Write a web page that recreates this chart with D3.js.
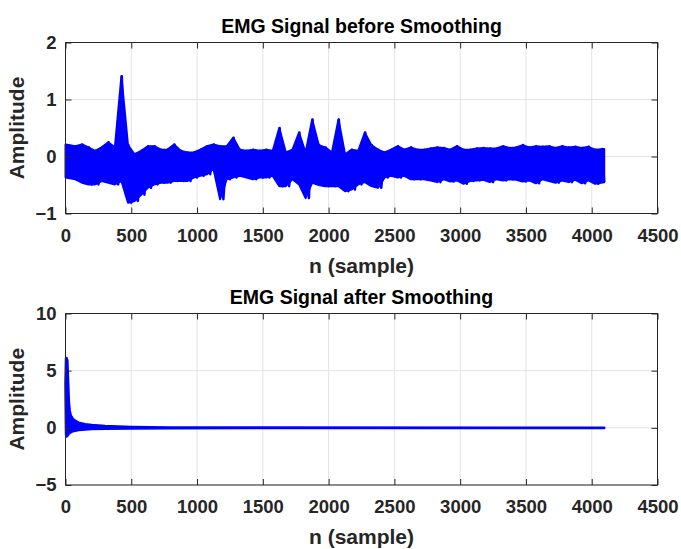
<!DOCTYPE html>
<html>
<head>
<meta charset="utf-8">
<script src="https://d3js.org/d3.v7.min.js"></script>
<style>
body { margin: 0; background: #fff; }
svg { display: block; }
text { font-family: "Liberation Sans", Arial, Helvetica, sans-serif; font-weight: bold; }
.tick text { font-size: 18.5px; fill: #262626; }
.domain, .tick line { stroke: #262626; }
.grid line { stroke: #e3e3e3; stroke-width: 1; }
</style>
</head>
<body>
<div id="chart"></div>
<script>
// bins of 50 samples, envelope (upper / lower edge)
var beforeHi = [0.21, 0.18, 0.21, 0.16, 0.10, 0.16, 0.25, 0.16, 1.41, 0.20,
  0.04, 0.10, 0.18, 0.18, 0.12, 0.12, 0.21, 0.10, 0.07, 0.07,
  0.12, 0.18, 0.21, 0.18, 0.18, 0.33, 0.12, 0.10, 0.12, 0.10,
  0.12, 0.10, 0.50, 0.07, 0.12, 0.42, 0.07, 0.65, 0.20, 0.16,
  0.07, 0.65, 0.04, 0.12, 0.10, 0.42, 0.20, 0.12, 0.07, 0.12,
  0.18, 0.12, 0.16, 0.12, 0.12, 0.14, 0.16, 0.15, 0.12, 0.18,
  0.12, 0.12, 0.14, 0.15, 0.14, 0.14, 0.18, 0.15, 0.16, 0.20,
  0.16, 0.18, 0.17, 0.18, 0.15, 0.18, 0.16, 0.17, 0.15, 0.17,
  0.12, 0.13];
var beforeLo = [-0.37, -0.40, -0.46, -0.49, -0.49, -0.43, -0.46, -0.49, -0.43, -0.81,
  -0.78, -0.67, -0.55, -0.49, -0.46, -0.46, -0.43, -0.43, -0.43, -0.37,
  -0.34, -0.31, -0.22, -0.75, -0.40, -0.37, -0.34, -0.37, -0.40, -0.37,
  -0.37, -0.34, -0.52, -0.52, -0.40, -0.49, -0.73, -0.46, -0.50, -0.52,
  -0.52, -0.52, -0.61, -0.58, -0.49, -0.45, -0.52, -0.55, -0.37, -0.34,
  -0.37, -0.34, -0.40, -0.40, -0.40, -0.42, -0.45, -0.40, -0.44, -0.42,
  -0.48, -0.43, -0.42, -0.41, -0.45, -0.40, -0.42, -0.40, -0.41, -0.44,
  -0.42, -0.47, -0.40, -0.43, -0.46, -0.42, -0.45, -0.41, -0.47, -0.42,
  -0.48, -0.45];
var binSize = 50;
var nSamples = 4096;

// smoothed signal envelope
var afterN  = [0, 4, 8, 14, 20, 26, 32, 40, 55, 75, 100, 150, 200, 300, 500, 800, 1500, 4095];
var afterHi = [3.9, 6.1, 6.1, 5.9, 4.0, 2.2, 1.5, 1.1, 0.8, 0.6, 0.45, 0.32, 0.25, 0.15, 0.08, 0.04, 0.02, 0.01];
var afterLo = [3.5, -0.6, -0.75, -0.7, -0.6, -0.5, -0.45, -0.4, -0.3, -0.25, -0.2, -0.14, -0.1, -0.08, -0.05, -0.03, -0.02, -0.01];

var xTicks = [0, 500, 1000, 1500, 2000, 2500, 3000, 3500, 4000, 4500];
var yTicksBefore = [-1, 0, 1, 2];
var yTicksAfter = [-5, 0, 5, 10];

var width = 681, height = 549;
var left = 65.5, right = 657.5;
var svg = d3.select("#chart").append("svg").attr("width", width).attr("height", height);

var xScale = d3.scaleLinear().domain([0, 4500]).range([left, right]);

function panel(top, bottom, yDomain, yTicks, title) {
  var yScale = d3.scaleLinear().domain(yDomain).range([bottom, top]);
  var g = svg.append("g");

  // grid
  var grid = g.append("g").attr("class", "grid");
  grid.selectAll("line.gx").data(xTicks).enter().append("line")
    .attr("x1", d => xScale(d)).attr("x2", d => xScale(d))
    .attr("y1", top).attr("y2", bottom);
  grid.selectAll("line.gy").data(yTicks).enter().append("line")
    .attr("x1", left).attr("x2", right)
    .attr("y1", d => yScale(d)).attr("y2", d => yScale(d));

  var plot = g.append("g").attr("class", "plot");

  // axes, ticks pointing inwards
  g.append("g").attr("transform", "translate(0," + bottom + ")")
    .call(d3.axisBottom(xScale).tickValues(xTicks).tickSize(-6).tickPadding(15).tickFormat(d3.format("d")));
  g.append("g").attr("transform", "translate(0," + top + ")")
    .call(d3.axisTop(xScale).tickValues(xTicks).tickSize(-6).tickFormat(""));
  g.append("g").attr("transform", "translate(" + left + ",0)")
    .call(d3.axisLeft(yScale).tickValues(yTicks).tickSize(-6).tickPadding(9).tickFormat(d3.format("d")));
  g.append("g").attr("transform", "translate(" + right + ",0)")
    .call(d3.axisRight(yScale).tickValues(yTicks).tickSize(-6).tickFormat(""));
  g.selectAll(".tick text").style("font-family", null);
  g.selectAll(".domain").attr("d", null);
  g.append("rect").attr("x", left).attr("y", top)
    .attr("width", right - left).attr("height", bottom - top)
    .style("fill", "none").style("stroke", "#262626").style("stroke-width", 1);

  g.append("text").attr("x", (left + right) / 2).attr("y", top - 16.5)
    .attr("dy", "0.35em").attr("text-anchor", "middle")
    .style("font-size", "19.5px").style("fill", "#000").text(title);
  g.append("text").attr("x", (left + right) / 2).attr("y", bottom + 52)
    .attr("dy", "0.35em").attr("text-anchor", "middle")
    .style("font-size", "21px").style("fill", "#262626").text("n (sample)");
  g.append("text").attr("transform", "translate(16.5," + ((top + bottom) / 2) + ") rotate(-90)")
    .attr("dy", "0.35em").attr("text-anchor", "middle")
    .style("font-size", "21px").style("fill", "#262626").text("Amplitude");

  return { plot: plot, y: yScale };
}

var p1 = panel(42.5, 213.5, [-1, 2], yTicksBefore, "EMG Signal before Smoothing");
var p2 = panel(313.5, 485, [-5, 10], yTicksAfter, "EMG Signal after Smoothing");

// before smoothing: solid band + zig-zag trace
var bins = beforeHi.map(function (h, i) {
  var c = i * binSize + binSize / 2;
  if (i == 0) c = 0;
  if (i == beforeHi.length - 1) c = nSamples - 1;
  return { n: c, hi: h, lo: beforeLo[i], i: i };
});

p1.plot.append("path").datum(bins)
  .attr("d", d3.area().x(d => xScale(d.n)).y0(d => p1.y(d.lo)).y1(d => p1.y(d.hi)))
  .style("fill", "#0000ff").style("stroke", "#0000ff").style("stroke-width", 2)
  .style("stroke-linejoin", "round");

var zig = [];
bins.forEach(function (d) {
  zig.push([Math.min(d.i * binSize + 28, nSamples - 1), d.hi]);
  zig.push([Math.min(d.i * binSize + 50, nSamples - 1), d.lo]);
});
p1.plot.append("path").datum(zig)
  .attr("d", d3.line().x(d => xScale(d[0])).y(d => p1.y(d[1])))
  .style("fill", "none").style("stroke", "#0000ff").style("stroke-width", 2.5)
  .style("stroke-linejoin", "round");

// after smoothing
var after = afterN.map(function (n, i) { return { n: n, hi: afterHi[i], lo: afterLo[i] }; });
p2.plot.append("path").datum(after)
  .attr("d", d3.area().x(d => xScale(d.n)).y0(d => p2.y(d.lo)).y1(d => p2.y(d.hi)))
  .style("fill", "#0000ff").style("stroke", "#0000ff").style("stroke-width", 2.5)
  .style("stroke-linejoin", "round");
</script>
</body>
</html>
